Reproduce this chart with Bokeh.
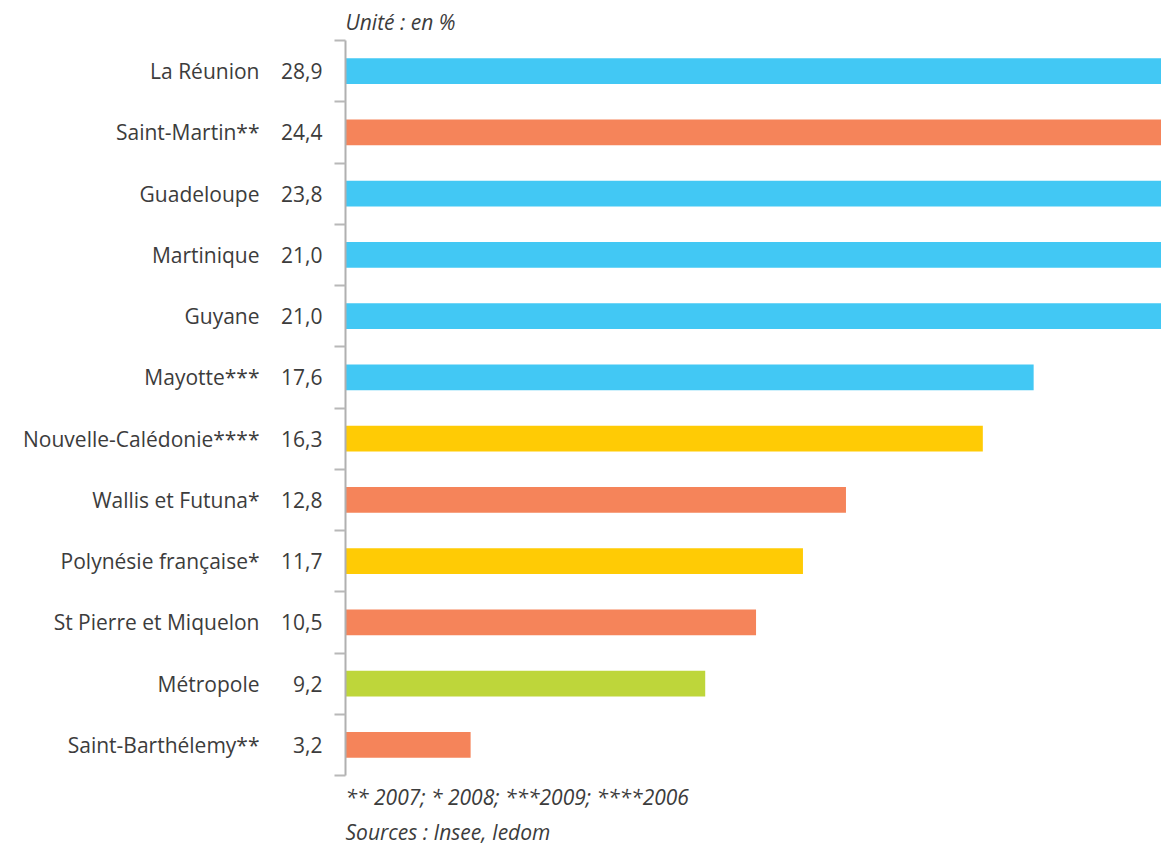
from bokeh.plotting import figure
from bokeh.models import ColumnDataSource, Range1d, FixedTicker, LinearAxis, Title
from bokeh.embed import file_html
from bokeh.resources import INLINE

categories = ["La Réunion", "Saint-Martin**", "Guadeloupe", "Martinique", "Guyane",
              "Mayotte***", "Nouvelle-Calédonie****", "Wallis et Futuna*",
              "Polynésie française*", "St Pierre et Miquelon", "Métropole",
              "Saint-Barthélemy**"]
values = [28.9, 24.4, 23.8, 21.0, 21.0, 17.6, 16.3, 12.8, 11.7, 10.5, 9.2, 3.2]
groups = ["dom", "com", "dom", "dom", "dom", "dom", "pac", "com", "pac", "com", "metro", "com"]
group_colors = {"dom": "#42C8F4", "com": "#F5845A", "pac": "#FFCB05", "metro": "#BED63A"}
unit_text = "Unité : en %"
note_text = "** 2007; * 2008; ***2009; ****2006"
source_text = "Sources : Insee, Iedom"

n = len(categories)
pos = [i + 0.5 for i in range(n)]
value_labels = [f"{v:.1f}".replace(".", ",") for v in values]
colors = [group_colors[g] for g in groups]

src = ColumnDataSource(dict(y=pos, v=values, c=colors))

FONT = "Open Sans"
TXT = "#3c3c3c"
FS = "21px"

p = figure(width=1161, height=845, output_backend="svg", toolbar_location=None,
           x_range=Range1d(0, 20.87), y_range=Range1d(n, 0),
           min_border_left=345, min_border_right=0, min_border_top=39, min_border_bottom=68)
p.outline_line_color = None
p.xgrid.visible = False
p.ygrid.visible = False
p.xaxis.visible = False

p.hbar(y="y", right="v", left=0, height=0.42, color="c", line_color=None, source=src)

# inner axis: line, boundary ticks, values
ax = p.yaxis[0]
ax.ticker = FixedTicker(ticks=pos, minor_ticks=list(range(n + 1)))
ax.major_label_overrides = {p_: l for p_, l in zip(pos, value_labels)}
ax.axis_line_color = "#b0b0b0"
ax.axis_line_width = 2
ax.major_tick_line_color = None
ax.major_tick_out = 0
ax.major_tick_in = 0
ax.minor_tick_line_color = "#b8b8b8"
ax.minor_tick_line_width = 2
ax.minor_tick_out = 11
ax.minor_tick_in = 0
ax.major_label_standoff = 12
ax.major_label_text_font = FONT
ax.major_label_text_font_size = FS
ax.major_label_text_color = TXT

# outer axis: category names
ax2 = LinearAxis(ticker=FixedTicker(ticks=pos, minor_ticks=[]),
                 major_label_overrides={p_: c for p_, c in zip(pos, categories)})
ax2.axis_line_color = None
ax2.major_tick_line_color = None
ax2.minor_tick_line_color = None
ax2.major_tick_out = 0
ax2.major_tick_in = 0
ax2.major_label_standoff = 19
ax2.major_label_text_font = FONT
ax2.major_label_text_font_size = FS
ax2.major_label_text_color = TXT
p.add_layout(ax2, "left")

p.title.text = unit_text
p.title.align = "left"
p.title.text_font = FONT
p.title.text_font_style = "italic"
p.title.text_font_size = FS
p.title.text_color = TXT

p.add_layout(Title(text=note_text, align="left", text_font=FONT, text_font_style="italic",
                   text_font_size=FS, text_color=TXT, standoff=10), "below")
p.add_layout(Title(text=source_text, align="left", text_font=FONT, text_font_style="italic",
                   text_font_size=FS, text_color=TXT, standoff=0), "below")

open("out.html", "w").write(file_html(p, INLINE))
